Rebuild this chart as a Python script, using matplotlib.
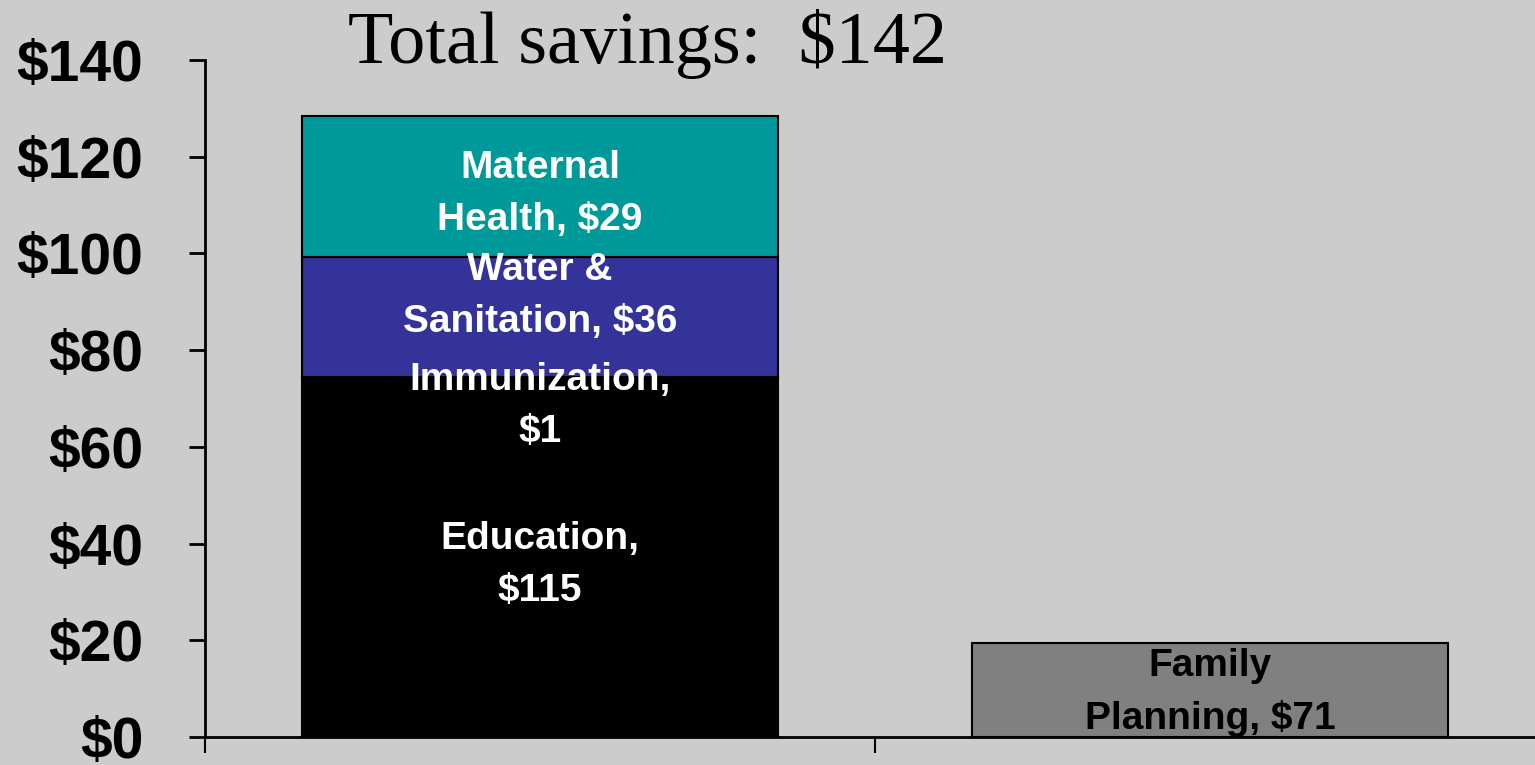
import matplotlib
matplotlib.use("Agg")
import matplotlib.pyplot as plt

# Data (bar heights as drawn; labels as printed in the chart)
categories = ["Savings", "Family Planning"]
segments = ["Education", "Immunization", "Water & Sanitation", "Maternal Health"]
segment_values = [74.2, 0.2, 24.9, 29.1]
segment_labels = ["Education,\n$115", "Immunization,\n$1", "Water &\nSanitation, $36", "Maternal\nHealth, $29"]
segment_colors = ["#000000", "#000000", "#333399", "#009999"]
fp_value = 19.4
fp_label = "Family\nPlanning, $71"
yticks = [0, 20, 40, 60, 80, 100, 120, 140]
title = "Total savings:  $142"

bg = "#CCCCCC"
fig = plt.figure(figsize=(15.35, 7.65), dpi=100, facecolor=bg)
ax = fig.add_axes([205 / 1535, 1 - 737 / 765, 1340 / 1535, 677 / 765])
ax.set_facecolor(bg)

width = 0.71
bottom = 0
centers = []
for val, col in zip(segment_values, segment_colors):
    ax.bar(0, val, width, bottom=bottom, color=col, edgecolor="black", linewidth=1.5, zorder=2)
    centers.append(bottom + val / 2)
    bottom += val
ax.bar(1, fp_value, width, color="#808080", edgecolor="black", linewidth=1.5, zorder=2)

# label nudges where segments are too thin for their text
nudge = [-1.6, -5.8, 4.4, -1.6]
lab_font = dict(family=["Liberation Sans", "Arial", "DejaVu Sans"], fontsize=28, fontweight="bold",
                ha="center", va="center", linespacing=1.56, zorder=3)
for c, txt, dy in zip(centers, segment_labels, nudge):
    ax.text(0, c + dy, txt, color="white", **lab_font)
ax.text(1, fp_value / 2 - 0.5, fp_label, color="black", clip_on=False, **lab_font)

ax.set_xlim(-0.5, 1.5)
ax.set_ylim(0, 140)
ax.set_yticks(yticks)
ax.set_yticklabels(["$%d" % v for v in yticks], family=["Liberation Sans", "Arial", "DejaVu Sans"],
                   fontsize=41, fontweight="bold")
ax.set_xticks([-0.5, 0.5, 1.5])
ax.set_xticklabels([])
ax.tick_params(axis="y", direction="out", length=11.5, width=2, pad=33)
ax.tick_params(axis="x", direction="out", length=11.5, width=1.5)
for s in ["top", "right"]:
    ax.spines[s].set_visible(False)
ax.spines["left"].set_linewidth(2)
ax.spines["bottom"].set_linewidth(2)

fig.text(648 / 1535, 1 - 44 / 765, title, family=["Liberation Serif", "Times New Roman", "DejaVu Serif"],
         fontsize=53.5, ha="center", va="center")

fig.savefig("out.png", dpi=100, facecolor=bg)
